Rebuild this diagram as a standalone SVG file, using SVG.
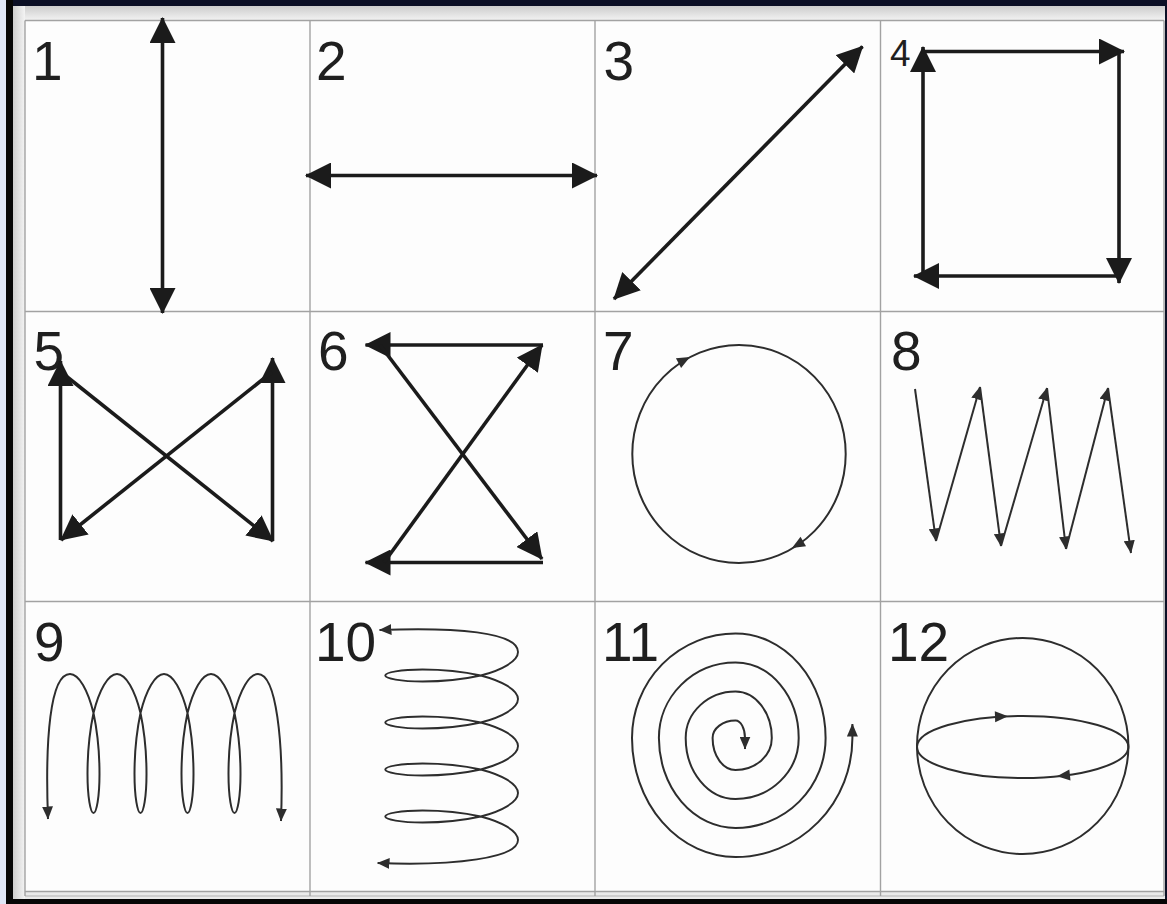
<svg xmlns="http://www.w3.org/2000/svg" width="1167" height="904" viewBox="0 0 1167 904">
<defs>
<style>
.grid{stroke:#a2a2a2;stroke-width:1.4;fill:none}
.thick{stroke:#1b1b1b;stroke-width:3.6;fill:none}
.thin{stroke:#2d2d2d;stroke-width:2;fill:none}
.lbl{font-family:"Liberation Sans",Arial,Helvetica,sans-serif;font-size:55px;fill:#1f1f1f}
.ahs{fill:#2d2d2d}
</style>
<linearGradient id="gTop" x1="0" y1="0" x2="0" y2="1"><stop offset="0" stop-color="#cdcdcd"/><stop offset="1" stop-color="#f4f4f4"/></linearGradient>
<linearGradient id="gLeft" x1="0" y1="0" x2="1" y2="0"><stop offset="0" stop-color="#cdcdcd"/><stop offset="1" stop-color="#f4f4f4"/></linearGradient>
<marker id="big" viewBox="0 0 26 26" refX="25" refY="13" markerWidth="26" markerHeight="26" markerUnits="userSpaceOnUse" orient="auto-start-reverse"><path d="M0,0 L26,13 L0,26 z" fill="#1b1b1b"/></marker>
<marker id="sm" viewBox="0 0 13 11" refX="12.5" refY="5.5" markerWidth="13" markerHeight="11" markerUnits="userSpaceOnUse" orient="auto-start-reverse"><path d="M0,0 L13,5.5 L0,11 z" fill="#2d2d2d"/></marker>
<path id="ahs" class="ahs" d="M-13,-5.5 L0,0 L-13,5.5 z"/>
<path id="coil" class="thin" marker-start="url(#sm)" marker-end="url(#sm)" d="M 48 819 C 45 740, 50 674, 70 674
C 79 674, 87.9 690.4, 93.5 713 C 97.5 732, 99.5 755, 99.5 774 C 99.5 797, 96.5 813, 93.5 813 C 90.5 813, 87.5 797, 87.5 774 C 87.5 755, 89.5 732, 93.5 713 C 99.1 690.4, 108 674, 117 674
C 126 674, 134.9 690.4, 140.5 713 C 144.5 732, 146.5 755, 146.5 774 C 146.5 797, 143.5 813, 140.5 813 C 137.5 813, 134.5 797, 134.5 774 C 134.5 755, 136.5 732, 140.5 713 C 146.1 690.4, 155 674, 164 674
C 173 674, 181.9 690.4, 187.5 713 C 191.5 732, 193.5 755, 193.5 774 C 193.5 797, 190.5 813, 187.5 813 C 184.5 813, 181.5 797, 181.5 774 C 181.5 755, 183.5 732, 187.5 713 C 193.1 690.4, 202 674, 211 674
C 220 674, 228.9 690.4, 234.5 713 C 238.5 732, 240.5 755, 240.5 774 C 240.5 797, 237.5 813, 234.5 813 C 231.5 813, 228.5 797, 228.5 774 C 228.5 755, 230.5 732, 234.5 713 C 240.1 690.4, 249 674, 258 674
C 276 674, 284 740, 281 821"/>
</defs>

<g id="frame">
<rect x="0" y="0" width="1167" height="904" fill="#eaeaea"/>
<rect x="13" y="6" width="1152" height="15" fill="url(#gTop)"/>
<rect x="13" y="6" width="12" height="893" fill="url(#gLeft)"/>
<rect x="25" y="20.5" width="1139" height="871" fill="#fdfdfd"/>
<rect x="0" y="0" width="7" height="904" fill="#dfe6f6"/>
<rect x="7" y="0" width="1160" height="6" fill="#0b0f25"/>
<rect x="6" y="0" width="7" height="904" fill="#060606"/>
<rect x="1165" y="0" width="2" height="904" fill="#0b0f25"/>
<rect x="6" y="899" width="1161" height="5" fill="#060606"/>
</g>

<g id="grid" class="grid">
<line x1="25" y1="20.5" x2="1164" y2="20.5"/>
<line x1="25" y1="311.5" x2="1164" y2="311.5"/>
<line x1="25" y1="601.5" x2="1164" y2="601.5"/>
<line x1="25" y1="891.5" x2="1164" y2="891.5"/>
<line x1="25" y1="896" x2="1164" y2="896" stroke="#c4c4c4"/>
<line x1="25" y1="20.5" x2="25" y2="896"/>
<line x1="310" y1="20.5" x2="310" y2="896"/>
<line x1="595" y1="20.5" x2="595" y2="896"/>
<line x1="880.5" y1="20.5" x2="880.5" y2="896"/>
<line x1="1164" y1="20.5" x2="1164" y2="896"/>
</g>

<g id="cell-1">
<text class="lbl" x="32" y="80">1</text>
<line class="thick" x1="162.5" y1="313" x2="162.5" y2="18" marker-start="url(#big)" marker-end="url(#big)"/>
</g>

<g id="cell-2">
<text class="lbl" x="316" y="80">2</text>
<line class="thick" x1="306" y1="175.5" x2="597" y2="175.5" marker-start="url(#big)" marker-end="url(#big)"/>
</g>

<g id="cell-3">
<text class="lbl" x="603.5" y="80">3</text>
<line class="thick" x1="614" y1="299" x2="862.5" y2="46.5" marker-start="url(#big)" marker-end="url(#big)"/>
</g>

<g id="cell-4">
<text class="lbl" x="890" y="66" style="font-size:37px">4</text>
<line class="thick" x1="923" y1="277.8" x2="923" y2="47" marker-end="url(#big)"/>
<line class="thick" x1="921.2" y1="51.5" x2="1124" y2="51.5" marker-end="url(#big)"/>
<line class="thick" x1="1119" y1="49.7" x2="1119" y2="283" marker-end="url(#big)"/>
<line class="thick" x1="1120.8" y1="276" x2="914" y2="276" marker-end="url(#big)"/>
</g>

<g id="cell-5">
<text class="lbl" x="33.5" y="370">5</text>
<line class="thick" x1="60.5" y1="540" x2="60.5" y2="361" marker-end="url(#big)"/>
<line class="thick" x1="61" y1="372" x2="273" y2="541" marker-end="url(#big)"/>
<line class="thick" x1="272.5" y1="541" x2="272.5" y2="358" marker-end="url(#big)"/>
<line class="thick" x1="272" y1="372" x2="61" y2="540" marker-end="url(#big)"/>
</g>

<g id="cell-6">
<text class="lbl" x="318" y="370">6</text>
<line class="thick" x1="543" y1="345" x2="365.5" y2="345" marker-end="url(#big)"/>
<line class="thick" x1="380" y1="345" x2="542" y2="559" marker-end="url(#big)"/>
<line class="thick" x1="543" y1="562.5" x2="365.5" y2="562.5" marker-end="url(#big)"/>
<line class="thick" x1="384" y1="562.5" x2="542" y2="345" marker-end="url(#big)"/>
</g>

<g id="cell-7">
<text class="lbl" x="603" y="370">7</text>
<ellipse class="thin" cx="739" cy="454" rx="106.7" ry="109"/>
<use href="#ahs" transform="translate(690 357) rotate(-28)"/>
<use href="#ahs" transform="translate(792 548) rotate(150)"/>
</g>

<g id="cell-8">
<text class="lbl" x="891" y="370">8</text>
<g class="thin" marker-end="url(#sm)">
<line x1="915" y1="389" x2="936" y2="541"/>
<line x1="936" y1="541" x2="980" y2="387"/>
<line x1="980" y1="387" x2="1001" y2="546"/>
<line x1="1001" y1="546" x2="1047" y2="388"/>
<line x1="1047" y1="388" x2="1066" y2="549"/>
<line x1="1066" y1="549" x2="1108" y2="388"/>
<line x1="1108" y1="388" x2="1131" y2="553"/>
</g>
</g>

<g id="cell-9">
<text class="lbl" x="34" y="661">9</text>
<use href="#coil"/>
</g>

<g id="cell-10">
<text class="lbl" x="315" y="661">10</text>
<use href="#coil" transform="translate(518 652) rotate(90) scale(1 0.955) translate(-70 -674)"/>
</g>

<g id="cell-11">
<text class="lbl" x="602" y="661">11</text>
<path class="thin" marker-start="url(#sm)" marker-end="url(#sm)" d="M 852.4 724 L 852.4 738
A 116.9 119 0 0 1 735.5 857
A 103.5 119 0 0 1 632 738
A 103.5 104.5 0 0 1 735.5 633.5
A 90.1 104.5 0 0 1 825.6 738
A 90.1 90 0 0 1 735.5 828
A 76.6 90 0 0 1 658.9 738
A 76.6 75.5 0 0 1 735.5 662.5
A 63.2 75.5 0 0 1 798.7 738
A 63.2 61 0 0 1 735.5 799
A 49.8 61 0 0 1 685.7 738
A 49.8 46.5 0 0 1 735.5 691.5
A 36.3 46.5 0 0 1 771.8 738
A 36.3 32 0 0 1 735.5 770
A 22.9 32 0 0 1 712.6 738
A 22.9 17.5 0 0 1 735.5 720.5
A 9.5 17.5 0 0 1 745 738
L 745 749"/>
</g>

<g id="cell-12">
<text class="lbl" x="888" y="661">12</text>
<ellipse class="thin" cx="1022.7" cy="746" rx="105.7" ry="108"/>
<ellipse class="thin" cx="1022.7" cy="747" rx="105.7" ry="31"/>
<use href="#ahs" transform="translate(1008 716.3) rotate(-2)"/>
<use href="#ahs" transform="translate(1057 776.3) rotate(174)"/>
</g>
</svg>
